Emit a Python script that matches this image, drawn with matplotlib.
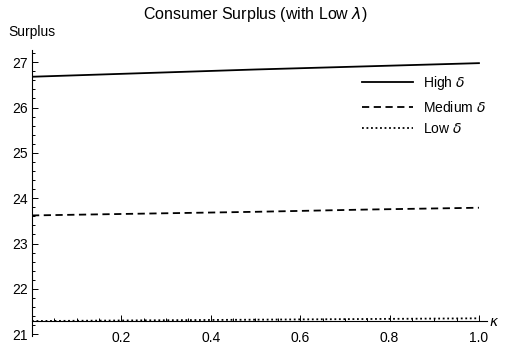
import matplotlib
matplotlib.use("Agg")
import matplotlib.pyplot as plt
from matplotlib.ticker import MultipleLocator, FixedLocator

plt.rcParams['font.family'] = ['Liberation Sans', 'DejaVu Sans']
plt.rcParams['mathtext.fontset'] = 'dejavusans'

# valeurs
kappa = [0.0, 0.25, 0.5, 0.75, 1.0]
surplus_high = [26.68, 26.76, 26.84, 26.91, 26.98]
surplus_medium = [23.62, 23.66, 23.70, 23.75, 23.79]
surplus_low = [21.29, 21.305, 21.32, 21.335, 21.35]

labels = ["High $\\delta$", "Medium $\\delta$", "Low $\\delta$"]
x_ticks = [0.2, 0.4, 0.6, 0.8, 1.0]
y_ticks = [21, 22, 23, 24, 25, 26, 27]

W, H = 506, 348
fig = plt.figure(figsize=(W / 100, H / 100), dpi=100)
ax = fig.add_axes([32 / W, (H - 336) / H, (487 - 32) / W, (336 - 50) / H])

ax.plot(kappa, surplus_high, color="black", lw=1.3, label=labels[0])
ax.plot(kappa, surplus_medium, color="black", lw=1.3, dashes=(4, 2.5), label=labels[1])
ax.plot(kappa, surplus_low, color="black", lw=1.3, dashes=(1, 1.5), label=labels[2])

ax.set_xlim(0, 1.018)
ax.set_ylim(20.96, 27.27)

for s in ["top", "right"]:
    ax.spines[s].set_visible(False)
ax.spines["bottom"].set_position(("data", 21.29))
ax.spines["left"].set_linewidth(0.8)
ax.spines["bottom"].set_linewidth(0.8)

ax.xaxis.set_major_locator(FixedLocator(x_ticks))
ax.xaxis.set_minor_locator(MultipleLocator(0.05))
ax.yaxis.set_major_locator(FixedLocator(y_ticks))
ax.yaxis.set_minor_locator(MultipleLocator(0.2))
ax.tick_params(which="both", direction="in", labelsize=10, width=0.7)
ax.tick_params(which="major", length=4)
ax.tick_params(which="minor", length=2)
ax.tick_params(axis="y", pad=3)
ax.tick_params(axis="x", pad=7)
ax.set_xticklabels([f"{v:.1f}" for v in x_ticks])

fig.text(255 / W, 1 - 14 / H, "Consumer Surplus (with Low $\\lambda$)",
         ha="center", va="center", fontsize=11.5)
fig.text(8 / W, 1 - 32 / H, "Surplus", ha="left", va="center", fontsize=10)
fig.text(494 / W, 1 - 322 / H, "$\\kappa$", ha="center", va="center", fontsize=10)

ax.legend(loc="upper left", bbox_to_anchor=((362 - 32) / 455, (336 - 74) / 286),
          frameon=False, fontsize=10, handlelength=3.7, handletextpad=0.7,
          labelspacing=0.55, borderpad=0, borderaxespad=0)

fig.savefig("out.png", dpi=100)
